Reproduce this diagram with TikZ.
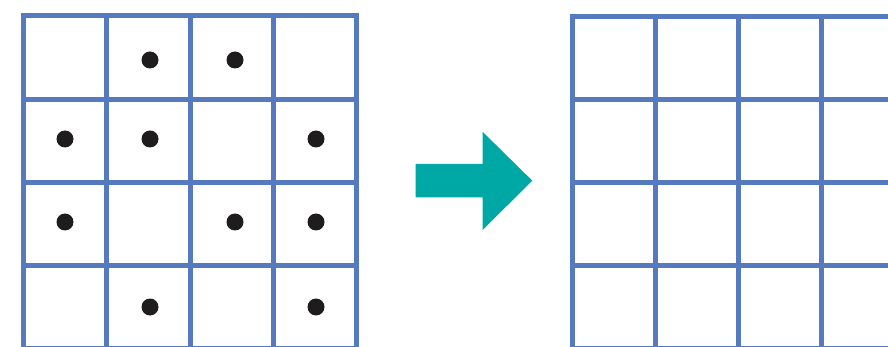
\documentclass[tikz,border=0pt]{standalone}
\definecolor{gridblue}{RGB}{86,122,192}
\definecolor{teal}{RGB}{0,168,165}
\definecolor{dotc}{RGB}{30,28,28}
\tikzset{
  gridline/.style={draw=gridblue,line width=5pt},
  dotmark/.style={circle,fill=dotc,inner sep=0pt,minimum size=17pt},
  bigarrow/.style={fill=teal,draw=none}
}
\begin{document}
\begin{tikzpicture}[x=1pt,y=-1pt]
\useasboundingbox (0,0) rectangle (888,347);
\clip (0,0) rectangle (888,347);
% left grid
\foreach \i in {0,...,4} {
  \draw[gridline] ({23.5+83.25*\i},13.5) -- ({23.5+83.25*\i},352);
  \draw[gridline] (21,{16+83.2*\i}) -- (359,{16+83.2*\i});
}
% right grid
\foreach \i in {0,...,4} {
  \draw[gridline] ({572.5+83*\i},14) -- ({572.5+83*\i},352);
  \draw[gridline] (570,{16.5+83*\i}) -- (892,{16.5+83*\i});
}
% dots
\node[dotmark] (d1) at (150,60) {};
\node[dotmark] (d2) at (235,60) {};
\node[dotmark] (d3) at (65,139) {};
\node[dotmark] (d4) at (150,139) {};
\node[dotmark] (d5) at (316,139) {};
\node[dotmark] (d6) at (65,222) {};
\node[dotmark] (d7) at (235,222) {};
\node[dotmark] (d8) at (316,222) {};
\node[dotmark] (d9) at (150,307) {};
\node[dotmark] (d10) at (316,307) {};
% arrow
\path[bigarrow] (415.7,164) -- (482.5,164) -- (482.5,131.7) -- (532.3,180.7)
  -- (482.5,230) -- (482.5,197.3) -- (415.7,197.3) -- cycle;
\end{tikzpicture}
\end{document}
